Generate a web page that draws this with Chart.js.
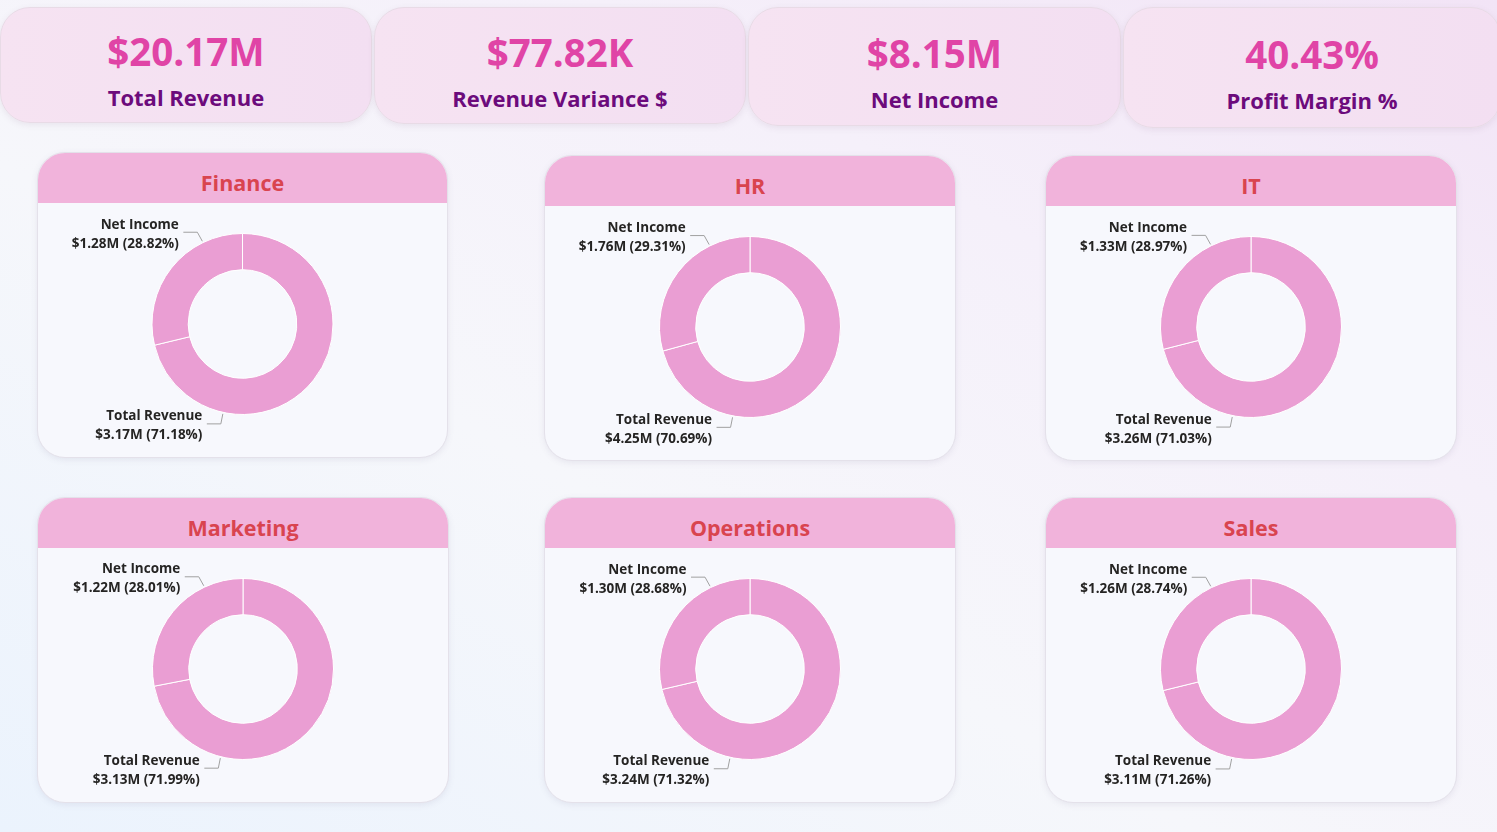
<!DOCTYPE html>
<html>
<head>
<meta charset="utf-8">
<script src="https://cdn.jsdelivr.net/npm/chart.js@4.4.1/dist/chart.umd.min.js"></script>
<style>
  html, body { margin: 0; padding: 0; }
  body {
    width: 1497px; height: 832px; overflow: hidden; position: relative;
    font-family: "Open Sans", "Noto Sans", "DejaVu Sans", sans-serif;
    background: linear-gradient(to top right, #ebf3fd 0%, #f6f7fb 40%, #f5f0fa 70%, #f2e4f6 100%);
  }
  .kpi {
    position: absolute; box-sizing: border-box;
    background: linear-gradient(to right, #f6e3f2, #f3dff2);
    border: 1px solid #e8dbe6; border-radius: 30px;
    box-shadow: 0 2px 6px rgba(120, 80, 120, 0.10);
    text-align: center;
  }
  .kpi .v { position: absolute; left: 0; right: 0; font-weight: 700; font-size: 38.5px; color: #e044a6; line-height: 1; }
  .kpi .l { position: absolute; left: 0; right: 0; font-weight: 700; font-size: 22px; color: #6c0b7c; line-height: 1; }
  .card {
    position: absolute; box-sizing: border-box; overflow: hidden;
    background: #f7f8fd; border: 1px solid #e4e1ea; border-radius: 28px;
    box-shadow: 0 2px 6px rgba(100, 90, 130, 0.10);
  }
  .card .hd {
    height: 50px; background: #f1b3db; color: #d9444f;
    font-weight: 700; font-size: 21.5px; text-align: center; line-height: 60px;
  }
  .card canvas { display: block; }
</style>
</head>
<body>
<div id="root"></div>
<script>
// ---- data ----
const kpiValues = ['$20.17M', '$77.82K', '$8.15M', '40.43%'];
const kpiLabels = ['Total Revenue', 'Revenue Variance $', 'Net Income', 'Profit Margin %'];

const departments = ['Finance', 'HR', 'IT', 'Marketing', 'Operations', 'Sales'];
const sliceNames = ['Total Revenue', 'Net Income'];
const totalRevenue = [3.17, 4.25, 3.26, 3.13, 3.24, 3.11];   // $M
const netIncome = [1.28, 1.76, 1.33, 1.22, 1.30, 1.26];      // $M
const totalRevenuePct = [71.18, 70.69, 71.03, 71.99, 71.32, 71.26];
const netIncomePct = [28.82, 29.31, 28.97, 28.01, 28.68, 28.74];

// ---- layout (positions / sizes only) ----
const kpiBoxes = [
  {x: 0, y: 7, w: 372, h: 116},
  {x: 374, y: 7, w: 372, h: 117},
  {x: 748, y: 7, w: 373, h: 119},
  {x: 1123, y: 7, w: 378, h: 121}
];
const cardBoxes = [
  {x: 37, y: 152, w: 411, h: 306},
  {x: 544, y: 155, w: 412, h: 306},
  {x: 1045, y: 155, w: 412, h: 306},
  {x: 37, y: 497, w: 412, h: 306},
  {x: 544, y: 497, w: 412, h: 306},
  {x: 1045, y: 497, w: 412, h: 306}
];

const root = document.getElementById('root');
kpiValues.forEach((v, i) => {
  const b = kpiBoxes[i];
  const d = document.createElement('div');
  d.className = 'kpi';
  Object.assign(d.style, {left: b.x + 'px', top: b.y + 'px', width: b.w + 'px', height: b.h + 'px'});
  const off = (b.h - 116) / 2;
  d.innerHTML = '<div class="v" style="top:' + (24 + off) + 'px">' + v + '</div>' +
                '<div class="l" style="top:' + (78 + off) + 'px">' + kpiLabels[i] + '</div>';
  root.appendChild(d);
});

const labelFont = '700 13.5px "Open Sans", "Noto Sans", sans-serif';

const leaderLabels = {
  id: 'leaderLabels',
  afterDatasetsDraw(chart) {
    const ctx = chart.ctx;
    const meta = chart.getDatasetMeta(0);
    const extra = chart.options.plugins.leaderLabels;
    meta.data.forEach((arc, i) => {
      const p = arc.getProps(['x', 'y', 'startAngle', 'endAngle', 'outerRadius'], true);
      const a = p.startAngle + 0.75 * (p.endAngle - p.startAngle);
      const ax = p.x + Math.cos(a) * (p.outerRadius + 1.5);
      const ay = p.y + Math.sin(a) * (p.outerRadius + 1.5);
      const upper = ay < p.y;
      const ex = upper ? ax - 5 : ax - 2;
      const ey = upper ? ay - 9 : ay + 10;
      const lx = ex - 14;
      ctx.save();
      ctx.strokeStyle = '#a0a0a0';
      ctx.lineWidth = 1;
      ctx.beginPath();
      ctx.moveTo(ax, ay); ctx.lineTo(ex, ey); ctx.lineTo(lx, ey);
      ctx.stroke();
      ctx.fillStyle = '#252423';
      ctx.font = labelFont;
      ctx.textAlign = 'right';
      ctx.textBaseline = 'alphabetic';
      const tx = lx - 4.5;
      ctx.fillText(chart.data.labels[i], tx, ey - 3.5);
      const val = chart.data.datasets[0].data[i];
      ctx.fillText('$' + val.toFixed(2) + 'M (' + extra.pct[i].toFixed(2) + '%)', tx, ey + 15.5);
      ctx.restore();
    });
  }
};

departments.forEach((dep, i) => {
  const b = cardBoxes[i];
  const card = document.createElement('div');
  card.className = 'card';
  Object.assign(card.style, {left: b.x + 'px', top: b.y + 'px', width: b.w + 'px', height: b.h + 'px'});
  const hd = document.createElement('div');
  hd.className = 'hd';
  hd.textContent = dep;
  card.appendChild(hd);
  const cv = document.createElement('canvas');
  const cw = b.w - 2, ch = b.h - 52;
  cv.width = cw; cv.height = ch;
  cv.style.width = cw + 'px'; cv.style.height = ch + 'px';
  card.appendChild(cv);
  root.appendChild(card);

  new Chart(cv, {
    type: 'doughnut',
    data: {
      labels: sliceNames,
      datasets: [{
        data: [totalRevenue[i], netIncome[i]],
        backgroundColor: '#ea9ed3',
        borderColor: '#ffffff',
        borderWidth: 1,
        hoverOffset: 0
      }]
    },
    options: {
      responsive: false,
      animation: false,
      cutout: '60%',
      layout: { padding: { top: 30, bottom: ch - 121 - 91, left: 0, right: 0 } },
      plugins: {
        legend: { display: false },
        tooltip: { enabled: false },
        leaderLabels: { pct: [totalRevenuePct[i], netIncomePct[i]] }
      }
    },
    plugins: [leaderLabels]
  });
});
</script>
</body>
</html>
